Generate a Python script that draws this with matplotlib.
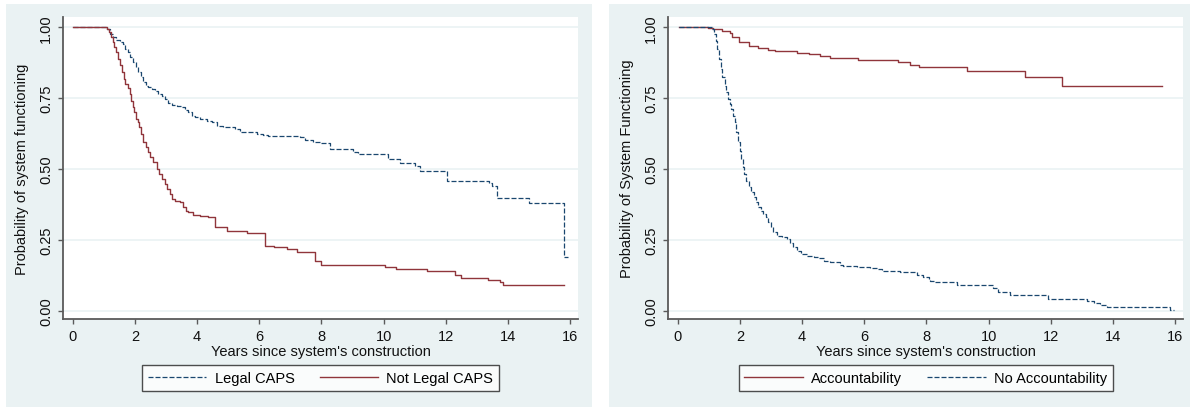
"""Kaplan-Meier style survival curves, two Stata-looking panels side by side."""

import matplotlib.pyplot as plt
from matplotlib.patches import Rectangle

plt.rcParams["font.family"] = ["Liberation Sans", "DejaVu Sans"]

# ---- data (years, survival probability) ----
legal_t = [0.02, 1.09, 1.20, 1.31, 1.41, 1.52, 1.63, 1.70, 1.79, 1.86, 1.95, 2.04, 2.11,
           2.20, 2.27, 2.36, 2.43, 2.54, 2.65, 2.75, 2.86, 2.97, 3.08, 3.18, 3.34, 3.50,
           3.61, 3.72, 3.83, 3.93, 4.09, 4.31, 4.47, 4.63, 4.84, 5.06, 5.22, 5.38, 5.59,
           5.92, 6.13, 6.29, 7.31, 7.47, 7.74, 7.95, 8.27, 9.02, 9.17, 10.15, 10.52, 11.0,
           11.17, 12.03, 13.4, 13.5, 13.63, 14.68, 15.81, 15.93]
legal_s = [1.0, 0.992, 0.977, 0.965, 0.956, 0.949, 0.941, 0.923, 0.912, 0.894, 0.876,
           0.859, 0.841, 0.823, 0.806, 0.794, 0.788, 0.782, 0.776, 0.765, 0.756, 0.747,
           0.733, 0.726, 0.723, 0.718, 0.709, 0.700, 0.688, 0.682, 0.676, 0.670, 0.665,
           0.653, 0.649, 0.647, 0.641, 0.632, 0.629, 0.624, 0.620, 0.615, 0.612, 0.603,
           0.596, 0.592, 0.571, 0.561, 0.553, 0.535, 0.521, 0.512, 0.494, 0.459, 0.450,
           0.440, 0.398, 0.379, 0.188, 0.188]

not_legal_t = [0.02, 1.09, 1.18, 1.23, 1.29, 1.34, 1.39, 1.47, 1.52, 1.59, 1.65, 1.70,
               1.77, 1.84, 1.88, 1.93, 1.97, 2.04, 2.09, 2.14, 2.20, 2.27, 2.35, 2.41,
               2.49, 2.59, 2.70, 2.78, 2.86, 2.97, 3.04, 3.13, 3.18, 3.29, 3.45, 3.54,
               3.64, 3.72, 3.88, 4.09, 4.36, 4.58, 4.95, 5.6, 6.18, 6.47, 6.88, 7.2, 7.8,
               8.0, 10.04, 10.4, 11.38, 12.29, 12.5, 13.36, 13.74, 13.85, 15.81]
not_legal_s = [1.0, 0.994, 0.982, 0.965, 0.947, 0.929, 0.912, 0.888, 0.865, 0.841, 0.818,
               0.800, 0.785, 0.765, 0.741, 0.718, 0.700, 0.676, 0.665, 0.647, 0.624, 0.594,
               0.576, 0.559, 0.541, 0.523, 0.500, 0.482, 0.465, 0.447, 0.429, 0.412, 0.394,
               0.386, 0.382, 0.365, 0.353, 0.347, 0.339, 0.335, 0.329, 0.294, 0.280, 0.273,
               0.227, 0.224, 0.219, 0.207, 0.177, 0.162, 0.153, 0.147, 0.139, 0.125, 0.116,
               0.108, 0.100, 0.091, 0.091]

acc_t = [0.03, 0.99, 1.15, 1.42, 1.69, 1.74, 1.96, 2.28, 2.60, 2.92, 3.13, 3.83, 4.21,
         4.58, 4.90, 5.81, 7.10, 7.48, 7.75, 9.30, 11.17, 12.35, 15.59]
acc_s = [1.0, 0.997, 0.994, 0.988, 0.980, 0.965, 0.949, 0.935, 0.927, 0.921, 0.915,
         0.908, 0.905, 0.900, 0.892, 0.885, 0.876, 0.868, 0.861, 0.847, 0.826, 0.792,
         0.792]

no_acc_t = [0.03, 1.10, 1.17, 1.23, 1.28, 1.33, 1.39, 1.44, 1.51, 1.56, 1.61, 1.67, 1.72,
            1.77, 1.83, 1.88, 1.94, 1.99, 2.04, 2.10, 2.15, 2.20, 2.28, 2.35, 2.44, 2.52,
            2.60, 2.67, 2.76, 2.85, 2.92, 3.00, 3.08, 3.19, 3.35, 3.51, 3.62, 3.72, 3.83,
            3.96, 4.15, 4.37, 4.53, 4.71, 4.90, 5.12, 5.23, 5.33, 5.76, 6.19, 6.40, 6.57,
            6.83, 7.15, 7.69, 7.90, 8.07, 8.12, 8.28, 8.98, 10.15, 10.31, 10.69, 11.92,
            13.16, 13.4, 13.58, 13.8, 15.84, 15.95]
no_acc_s = [1.0, 0.992, 0.976, 0.953, 0.923, 0.888, 0.853, 0.823, 0.794, 0.771, 0.747,
            0.729, 0.712, 0.688, 0.665, 0.629, 0.594, 0.565, 0.535, 0.506, 0.482, 0.459,
            0.435, 0.418, 0.400, 0.382, 0.367, 0.353, 0.341, 0.329, 0.312, 0.294, 0.277,
            0.265, 0.259, 0.253, 0.239, 0.224, 0.210, 0.200, 0.192, 0.188, 0.185, 0.176,
            0.173, 0.171, 0.162, 0.157, 0.153, 0.150, 0.147, 0.141, 0.139, 0.135, 0.126,
            0.118, 0.112, 0.106, 0.100, 0.090, 0.080, 0.067, 0.055, 0.041, 0.036, 0.028,
            0.020, 0.015, 0.004, 0.004]

x_ticks = [0, 2, 4, 6, 8, 10, 12, 14, 16]
y_ticks = [0.0, 0.25, 0.5, 0.75, 1.0]

NAVY = "#1a476f"
MAROON = "#90353b"
PANEL_BG = "#eaf2f3"
AXIS_GRAY = "#5a5a5a"
FS = 10.5
W, H = 1192, 410

fig = plt.figure(figsize=(W / 100, H / 100), dpi=100)
fig.patch.set_facecolor("white")


def px_rect(x0, y0, x1, y1):
    """Pixel box (top-left origin) -> figure fraction [l, b, w, h]."""
    return [x0 / W, (H - y1) / H, (x1 - x0) / W, (y1 - y0) / H]


for x0, x1 in [(5.7, 592), (609, 1190)]:
    l, b, w, h = px_rect(x0, 5, x1, 408)
    fig.patches.append(Rectangle((l, b), w, h, transform=fig.transFigure,
                                 facecolor=PANEL_BG, edgecolor="none", zorder=-5))


def style_axes(ax, ylabel):
    ax.set_zorder(2)
    ax.set_xlim(-0.30, 16.25)
    ax.set_ylim(-0.029, 1.036)
    ax.set_xticks(x_ticks)
    ax.set_yticks(y_ticks)
    ax.set_yticklabels([f"{v:.2f}" for v in y_ticks])
    for side in ("top", "right"):
        ax.spines[side].set_visible(False)
    for side in ("left", "bottom"):
        ax.spines[side].set_color(AXIS_GRAY)
        ax.spines[side].set_linewidth(1.3)
    ax.tick_params(axis="both", direction="out", length=3.8, width=1.0,
                   color=AXIS_GRAY, labelsize=FS, pad=3.5, labelcolor="#111111")
    ax.tick_params(axis="y", labelrotation=90)
    for lab in ax.get_yticklabels():
        lab.set_verticalalignment("center")
    ax.grid(axis="y", color=PANEL_BG, linewidth=1.2)
    ax.set_axisbelow(True)
    ax.set_xlabel("Years since system's construction", fontsize=FS, color="#111111")
    ax.xaxis.set_label_coords(0.5, -0.082)
    ax.set_ylabel(ylabel, fontsize=FS, color="#111111")
    ax.yaxis.label.set_verticalalignment("center")
    ax.yaxis.set_label_coords(-0.081, 0.5)


def add_legend(ax, handles, labels):
    leg = ax.legend(handles, labels, loc="center", bbox_to_anchor=(0.5, -0.195), ncol=2,
                    fontsize=FS, frameon=True, fancybox=False, handlelength=4.0,
                    handletextpad=0.55, columnspacing=1.75, borderpad=0.4)
    leg.get_frame().set_edgecolor("#222222")
    leg.get_frame().set_linewidth(1.0)


dash = (4, 1.6)

ax1 = fig.add_axes(px_rect(63.3, 18, 578, 320))
style_axes(ax1, "Probability of system functioning")
h1, = ax1.plot(legal_t, legal_s, drawstyle="steps-post", color=NAVY, lw=0.9,
               dashes=dash)
h2, = ax1.plot(not_legal_t, not_legal_s, drawstyle="steps-post", color=MAROON, lw=1.0)
add_legend(ax1, [h1, h2], ["Legal CAPS", "Not Legal CAPS"])

ax2 = fig.add_axes(px_rect(668.3, 18, 1183, 320))
style_axes(ax2, "Probability of System Functioning")
g1, = ax2.plot(acc_t, acc_s, drawstyle="steps-post", color=MAROON, lw=1.0)
g2, = ax2.plot(no_acc_t, no_acc_s, drawstyle="steps-post", color=NAVY, lw=0.9,
               dashes=dash)
add_legend(ax2, [g1, g2], ["Accountability", "No Accountability"])

fig.savefig("out.png", dpi=100)
